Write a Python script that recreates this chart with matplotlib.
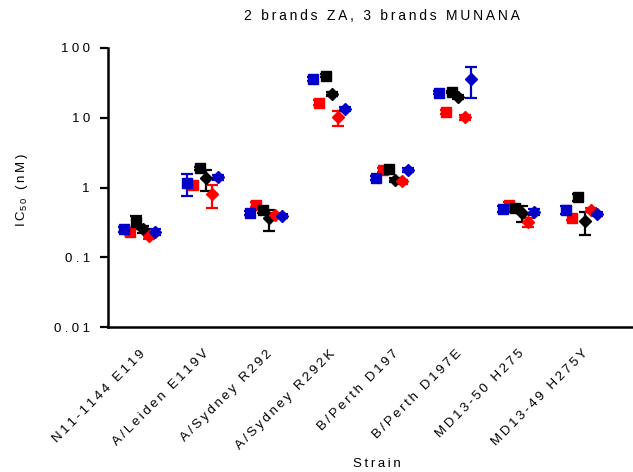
import numpy as np
import matplotlib
matplotlib.use('Agg')
import matplotlib.pyplot as plt

plt.rcParams['font.family'] = ['Liberation Sans', 'DejaVu Sans']
plt.rcParams['mathtext.default'] = 'regular'

strains = ['N11-1144 E119', 'A/Leiden E119V', 'A/Sydney R292', 'A/Sydney R292K',
           'B/Perth D197', 'B/Perth D197E', 'MD13-50 H275', 'MD13-49 H275Y']

# IC50 values (nM), one list per marker/colour
blue_sq = [0.25, 1.15, 0.43, 36, 1.38, 23, 0.49, 0.48]
red_sq = [0.23, 1.1, 0.57, 16.5, 1.78, 12.2, 0.57, 0.37]
black_sq = [0.32, 1.9, 0.48, 40, 1.84, 23.5, 0.5, 0.72]
black_dia = [0.25, 1.35, 0.36, 22, 1.28, 20, 0.43, 0.33]
red_dia = [0.2, 0.8, 0.4, 10.2, 1.22, 10.2, 0.32, 0.47]
blue_dia = [0.23, 1.4, 0.39, 13.3, 1.78, 36, 0.45, 0.42]

blue_sq_err = [0.02, 0.4, 0.03, 2, 0.08, 1, 0.05, 0.06]
red_sq_err = [0.02, 0.1, 0.05, 1.5, 0.1, 0.8, 0.04, 0.03]
black_sq_err = [0.07, 0.1, 0.05, 2, 0.1, 1, 0.05, 0.08]
black_dia_err = [0.03, 0.45, 0.12, 1.5, 0.1, 1.5, 0.11, 0.12]
red_dia_err = [0.02, 0.3, 0.03, 2.5, 0.08, 0.8, 0.05, 0.03]
blue_dia_err = [0.02, 0.1, 0.03, 1, 0.1, 17, 0.04, 0.03]

BLUE = '#0000C8'
RED = '#FF0000'
BLACK = '#000000'


def spaced(s, sp='\u2009'):
    # mimic the wide letter spacing of the original (Prism export)
    return sp.join(s)


fig = plt.figure(figsize=(6.33, 4.72), dpi=100)
ax = fig.add_axes([108/633, 1 - 327/472, (632-108)/633, (327-48)/472])

x = np.arange(len(strains))
series = [
    (red_sq, red_sq_err, 's', RED, -0.15),
    (blue_sq, blue_sq_err, 's', BLUE, -0.25),
    (black_sq, black_sq_err, 's', BLACK, -0.05),
    (black_dia, black_dia_err, 'D', BLACK, 0.05),
    (red_dia, red_dia_err, 'D', RED, 0.15),
    (blue_dia, blue_dia_err, 'D', BLUE, 0.25),
]
for vals, err, mk, col, off in series:
    ms = 7.5 if mk == 's' else 6.4
    ax.errorbar(x + off, vals, yerr=err, fmt=mk, color=col, ms=ms, mec=col,
                elinewidth=1.6, capsize=4.5, capthick=1.6, clip_on=False)

ax.set_yscale('log')
ax.set_ylim(0.01, 100)
ax.set_xlim(-0.5, 7.8)
ax.set_yticks([0.01, 0.1, 1, 10, 100])
ax.set_yticklabels([spaced(t, '\u2005') for t in ['0.01', '0.1', '1', '10', '100']])
ax.yaxis.set_minor_locator(matplotlib.ticker.NullLocator())

ax.set_xticks(x)
ax.set_xticklabels([spaced(s) for s in strains], rotation=45, ha='right', va='top',
                   rotation_mode='anchor')
ax.tick_params(axis='x', length=0, pad=15, labelsize=9.5)
ax.tick_params(axis='y', length=6, width=1.6, pad=7, labelsize=9.5)

for s in ['top', 'right']:
    ax.spines[s].set_visible(False)
for s in ['left', 'bottom']:
    ax.spines[s].set_linewidth(1.8)

ax.set_ylabel('I\u2009C$_{5\u20090}$\u2009 \u2009(\u2009n\u2009M\u2009)', fontsize=9.5)
ax.yaxis.set_label_coords(-(108-30)/524, 0.49)
ax.set_xlabel(spaced('Strain'), fontsize=9.5)
ax.xaxis.set_label_coords((377-108)/524, -(458-327)/279)
fig.text(382/633, 1 - 16/472, spaced('2 brands ZA, 3 brands MUNANA'), fontsize=10,
         ha='center', va='center')

fig.savefig('out.png', dpi=100)
